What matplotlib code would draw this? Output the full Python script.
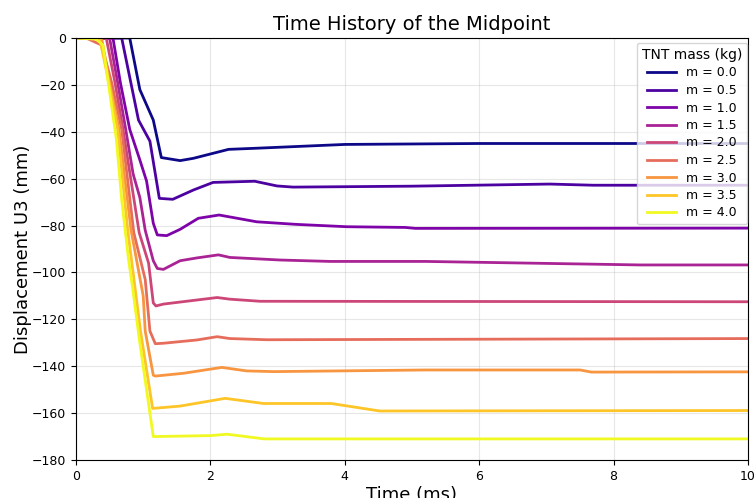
import numpy as np
import matplotlib.pyplot as plt

masses = [0.0, 0.5, 1.0, 1.5, 2.0, 2.5, 3.0, 3.5, 4.0]

t_m00 = [0, 0.8, 0.95, 1.15, 1.27, 1.55, 1.75, 2.27, 2.7, 4.0, 6.0, 10]
u_m00 = [0, 0, -22, -35, -51, -52.3, -51.3, -47.5, -47, -45.4, -45, -45]

t_m05 = [0, 0.68, 0.93, 1.1, 1.24, 1.44, 1.75, 2.04, 2.66, 2.99, 3.23, 5.0, 7.05, 7.7, 10]
u_m05 = [0, 0, -35, -44, -68.4, -68.8, -64.8, -61.6, -61.1, -63.1, -63.6, -63.2, -62.3, -62.8, -62.8]

t_m10 = [0, 0.55, 0.66, 0.8, 0.95, 1.05, 1.15, 1.21, 1.35, 1.55, 1.82, 2.13, 2.69, 3.28,
         4.03, 4.9, 5.05, 10]
u_m10 = [0, 0, -19, -39, -52, -61, -79, -84, -84.3, -81.6, -76.9, -75.5, -78.4, -79.5,
         -80.5, -80.8, -81.2, -81.1]

t_m15 = [0, 0.5, 0.62, 0.74, 0.85, 0.95, 1.03, 1.15, 1.21, 1.3, 1.55, 1.8, 2.12, 2.29,
         3.04, 3.78, 5.2, 8.4, 10]
u_m15 = [0, 0, -19, -39, -58, -68, -82, -95, -98.3, -98.7, -95, -93.8, -92.5, -93.6,
         -94.7, -95.3, -95.3, -96.8, -96.8]

t_m20 = [0, 0.45, 0.58, 0.7, 0.94, 1.08, 1.15, 1.19, 1.3, 2.1, 2.29, 2.74, 10]
u_m20 = [0, 0, -19, -39, -83, -96, -113, -114.3, -113.5, -110.7, -111.4, -112.3, -112.5]

t_m25 = [0, 0.15, 0.38, 0.53, 0.68, 0.86, 1.03, 1.1, 1.18, 1.3, 1.8, 2.1, 2.29, 2.84, 10]
u_m25 = [0, 0, -3, -19, -39, -83, -103, -125, -130.4, -130.2, -128.8, -127.4, -128.2,
         -128.7, -128.2]

t_m30 = [0, 0.38, 0.5, 0.64, 0.82, 1.0, 1.03, 1.15, 1.18, 1.6, 2.17, 2.54, 2.94, 5.2,
         7.5, 7.67, 10]
u_m30 = [0, 0, -19, -39, -82, -110, -125, -143.8, -144.2, -143, -140.5, -142, -142.3,
         -141.6, -141.6, -142.5, -142.4]

t_m35 = [0, 0.35, 0.49, 0.62, 0.77, 0.96, 1.14, 1.55, 2.22, 2.79, 3.8, 4.52, 10]
u_m35 = [0, 0, -19, -39, -82, -125, -158, -157, -153.7, -155.9, -155.9, -159.1, -158.9]

t_m40 = [0, 0.3, 0.4, 0.48, 0.6, 0.68, 0.78, 0.84, 0.94, 1.15, 2.0, 2.25, 2.8, 10]
u_m40 = [0, -0.5, -3, -19, -43, -69, -94, -106, -128, -170, -169.6, -169, -171, -171]

times = [t_m00, t_m05, t_m10, t_m15, t_m20, t_m25, t_m30, t_m35, t_m40]
disps = [u_m00, u_m05, u_m10, u_m15, u_m20, u_m25, u_m30, u_m35, u_m40]

colors = plt.cm.plasma(np.linspace(0, 1, len(masses)))

fig = plt.figure(figsize=(7.54, 4.98), dpi=100)
ax = fig.add_axes([0.1008, 0.0763, 0.8912, 0.8474])

for m, t, u, c in zip(masses, times, disps, colors):
    ax.plot(t, u, color=c, lw=2, label=f'm = {m:.1f}')

ax.set_xlim(0, 10)
ax.set_ylim(-180, 0)
ax.set_title('Time History of the Midpoint', fontsize=14)
ax.set_xlabel('Time (ms)', fontsize=13, labelpad=2)
ax.set_ylabel('Displacement U3 (mm)', fontsize=13, labelpad=0)
ax.grid(True, alpha=0.3)
ax.tick_params(labelsize=9)

# legend sits almost on the right spine in the original
leg = ax.legend(title='TNT mass (kg)', loc='upper right', fontsize=9, title_fontsize=10,
                labelspacing=0.36, handlelength=2.3, borderaxespad=0,
                bbox_to_anchor=(747 / 754, 1 - 43 / 498), bbox_transform=fig.transFigure)

fig.savefig('out.png', dpi=100)
